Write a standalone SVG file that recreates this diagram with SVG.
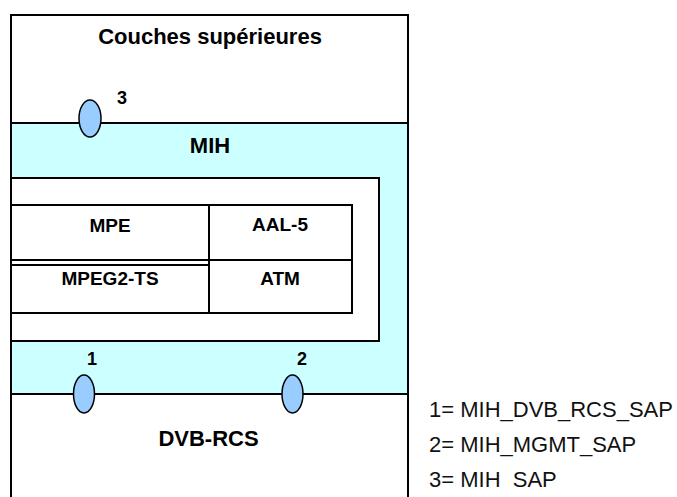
<svg xmlns="http://www.w3.org/2000/svg" width="677" height="497" viewBox="0 0 677 497">
<style>
.box{stroke:#000;stroke-width:2}
.w{fill:#fff}
.c{fill:#ccffff}
.sap{fill:#99ccff;stroke:#000;stroke-width:1.5}
.t{font-family:"Liberation Sans",Arial,sans-serif;font-weight:bold;fill:#000;text-anchor:middle}
.big{font-size:22px}
.cell{font-size:19px}
.num{font-size:18px}
.leg{font-family:"Liberation Sans",Arial,sans-serif;font-size:22px;fill:#111;white-space:pre}
</style>
<rect width="677" height="497" fill="#fff"/>
<g id="upper">
<rect class="box w" x="11" y="15" width="397" height="108"/>
<text class="t big" x="210" y="44">Couches supérieures</text>
</g>
<g id="mih">
<rect class="box c" x="11" y="123" width="397" height="271"/>
<text class="t big" x="210" y="153">MIH</text>
</g>
<g id="inner">
<rect class="box w" x="11" y="178" width="368" height="163"/>
</g>
<g id="mpe">
<rect class="box w" x="11" y="205" width="198" height="55"/>
<text class="t cell" x="110" y="232">MPE</text>
</g>
<g id="aal5">
<rect class="box w" x="209" y="205" width="143" height="55"/>
<text class="t cell" x="280" y="231">AAL-5</text>
</g>
<g id="mpeg2ts">
<rect class="box w" x="11" y="265" width="198" height="48"/>
<text class="t cell" x="110" y="285">MPEG2-TS</text>
</g>
<g id="atm">
<rect class="box w" x="209" y="260" width="143" height="53"/>
<text class="t cell" x="280" y="285">ATM</text>
</g>
<g id="dvbrcs">
<rect class="box w" x="11" y="394" width="397" height="120"/>
<text class="t big" x="208.5" y="446">DVB-RCS</text>
</g>
<g id="sap3">
<ellipse class="sap" cx="90" cy="118.5" rx="11" ry="18.5"/>
<text class="t num" x="122" y="104">3</text>
</g>
<g id="sap1">
<ellipse class="sap" cx="84" cy="394" rx="10.5" ry="19"/>
<text class="t num" x="92" y="365">1</text>
</g>
<g id="sap2">
<ellipse class="sap" cx="292.5" cy="394" rx="10.5" ry="19"/>
<text class="t num" x="302" y="365">2</text>
</g>
<g id="legend">
<text class="leg" x="429" y="417">1= MIH_DVB_RCS_SAP</text>
<text class="leg" x="429" y="452">2= MIH_MGMT_SAP</text>
<text class="leg" x="429" y="487">3= MIH  SAP</text>
</g>
</svg>
